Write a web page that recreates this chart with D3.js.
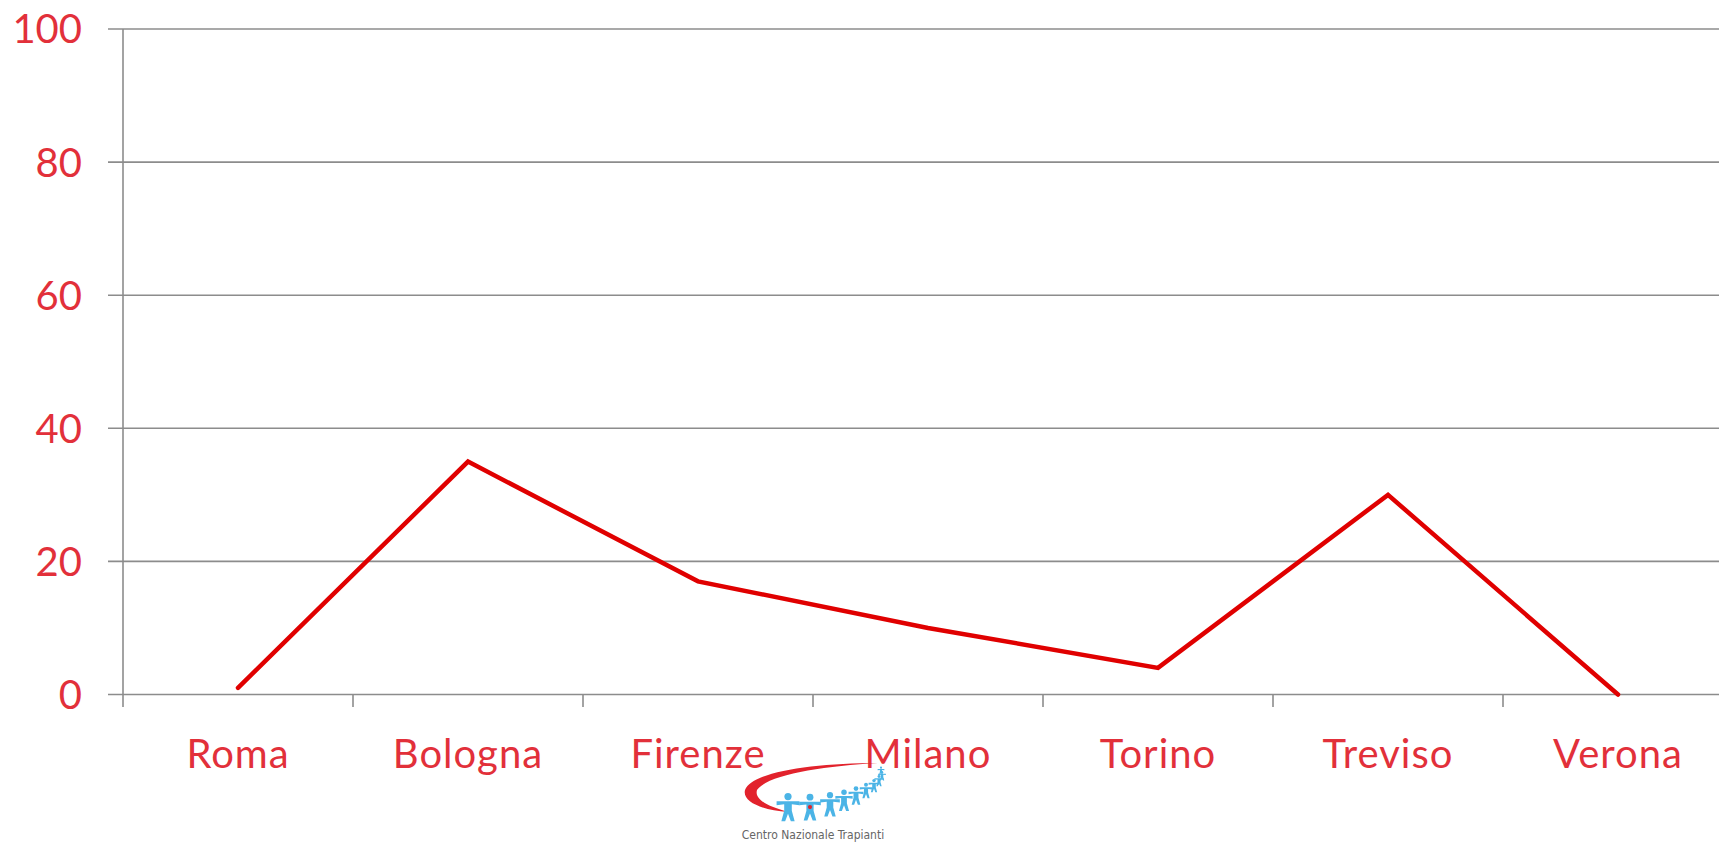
<!DOCTYPE html>
<html>
<head>
<meta charset="utf-8">
<script src="https://cdn.jsdelivr.net/npm/d3@7/dist/d3.min.js"></script>
<style>
  html, body { margin: 0; padding: 0; background: #fff; overflow: hidden; }
  svg { display: block; }
</style>
</head>
<body>
<svg id="chart" width="1719" height="844"></svg>
<script>
'use strict';

var cities = ["Roma", "Bologna", "Firenze", "Milano", "Torino", "Treviso", "Verona"];
var values = [1, 35, 17, 10, 4, 30, 0];
var yTicks = [0, 20, 40, 60, 80, 100];

var svg = d3.select("#chart");
var red = "#e2303a";

var x = d3.scaleBand().domain(cities).range([123, 1733]);
var y = d3.scaleLinear().domain([0, 100]).range([694.5, 29]);

// gridlines
svg.append("g").selectAll("line")
  .data(yTicks)
  .enter().append("line")
  .attr("x1", 108).attr("x2", 1719)
  .attr("y1", function(d) { return y(d); })
  .attr("y2", function(d) { return y(d); })
  .attr("stroke", "#8c8c8c")
  .attr("stroke-width", 1.6);

// y axis line
svg.append("line")
  .attr("x1", 123).attr("x2", 123)
  .attr("y1", y(100)).attr("y2", 707)
  .attr("stroke", "#8c8c8c").attr("stroke-width", 1.6);

// category ticks at band edges
svg.append("g").selectAll("line")
  .data(cities.slice(1))
  .enter().append("line")
  .attr("x1", function(d) { return x(d); })
  .attr("x2", function(d) { return x(d); })
  .attr("y1", y(0)).attr("y2", 707)
  .attr("stroke", "#8c8c8c").attr("stroke-width", 1.6);

// y labels
svg.append("g").selectAll("text")
  .data(yTicks)
  .enter().append("text")
  .attr("x", 82)
  .attr("y", function(d) { return y(d); })
  .attr("dy", "0.36em")
  .attr("text-anchor", "end")
  .attr("fill", red)
  .style("font-family", "Lato, 'Open Sans', sans-serif")
  .style("font-size", "40px")
  .text(function(d) { return d; });

// x labels
svg.append("g").selectAll("text")
  .data(cities)
  .enter().append("text")
  .attr("x", function(d) { return x(d) + x.bandwidth() / 2; })
  .attr("y", 768)
  .attr("text-anchor", "middle")
  .attr("fill", red)
  .style("font-family", "Lato, 'Open Sans', sans-serif")
  .style("font-size", "40px")
  .style("letter-spacing", "1px")
  .text(function(d) { return d; });

// data line
var line = d3.line()
  .x(function(d, i) { return x(cities[i]) + x.bandwidth() / 2; })
  .y(function(d) { return y(d); });

svg.append("path")
  .datum(values)
  .attr("d", line)
  .attr("fill", "none")
  .attr("stroke", "#e00000")
  .attr("stroke-width", 4.5)
  .attr("stroke-linejoin", "miter")
  .attr("stroke-linecap", "round");

// logo (Centro Nazionale Trapianti)
var logo = svg.append("g").attr("transform", "translate(742,760)");
logo.append("path")
  .attr("d", "M136,3 C70,3 10,12 3,30 C0,42 20,50 46,52 C28,47 12,40 15,30 C25,15 80,6 136,3 Z")
  .attr("fill", "#e2222c");
var figs = [[46, 48, 0.95], [68, 48, 0.9], [88, 45, 0.82], [102, 41, 0.72], [114, 36, 0.62],
            [124, 31, 0.52], [132, 26, 0.45], [137, 21, 0.38], [140, 16, 0.32], [139, 11, 0.28]];
figs.forEach(function(f, i) {
  var g = logo.append("g").attr("transform", "translate(" + f[0] + "," + f[1] + ") scale(" + f[2] + ")");
  g.append("circle").attr("cx", 0).attr("cy", -12).attr("r", 3.8).attr("fill", "#4bb4e6");
  g.append("path")
    .attr("d", "M-12,-7 L12,-7 L12,-3 L4,-4 L4,3 L7,14 L3,14 L0,6 L-3,14 L-7,14 L-4,3 L-4,-4 L-12,-3 Z")
    .attr("fill", "#4bb4e6");
  if (i === 1) g.append("circle").attr("cx", 0).attr("cy", -1).attr("r", 2.3).attr("fill", "#e2222c");
});
logo.append("text")
  .attr("x", 71).attr("y", 79)
  .attr("text-anchor", "middle")
  .attr("fill", "#666")
  .style("font-family", "'Liberation Sans Narrow', 'DejaVu Sans Condensed', sans-serif")
  .style("font-size", "12px")
  .text("Centro Nazionale Trapianti");
</script>
</body>
</html>
